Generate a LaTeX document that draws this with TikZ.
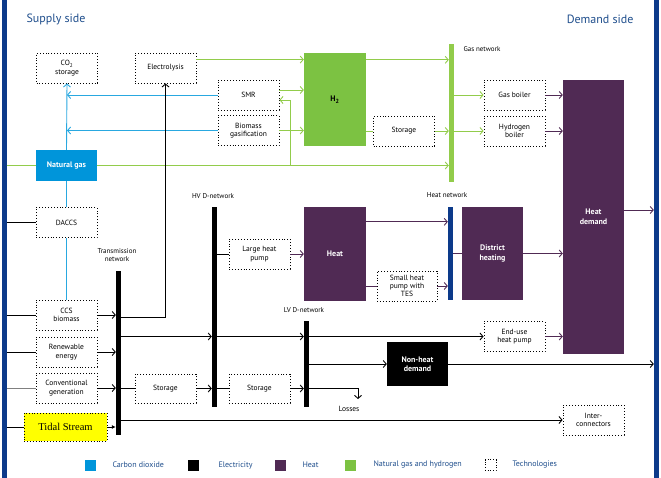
\documentclass[tikz,border=0pt]{standalone}
\usepackage{fontspec}
\setmainfont{PT Sans}
\newfontfamily\tidalfont{Liberation Serif}
\usetikzlibrary{arrows.meta}

\begin{document}
\begin{tikzpicture}[x=1pt,y=-1pt,
  every node/.style={font=\fontsize{7.5}{8.3}\selectfont},
  tech/.style={draw,dotted,line width=0.9pt,fill=white,minimum width=61pt,minimum height=30pt,inner sep=1pt,align=center},
  block/.style={minimum width=62pt,minimum height=93pt,inner sep=1pt,align=center,text=white,font=\fontsize{8}{9.5}\selectfont\bfseries},
  bus/.style={fill=#1,minimum width=5pt,inner sep=0pt},
  netlabel/.style={font=\fontsize{7}{8}\selectfont,align=center},
  legkey/.style={fill=#1,minimum size=11pt,inner sep=0pt},
  legtxt/.style={anchor=west,text=legtext,font=\fontsize{8}{9}\selectfont},
  co2line/.style={draw=co2col,line width=0.9pt},
  gasline/.style={draw=gascol,line width=0.9pt},
  heatline/.style={draw=heatcol,line width=0.9pt},
  elline/.style={draw=black,line width=0.9pt},
  flow/.style={-{Straight Barb[length=3pt,width=7pt,line width=0.9pt]}}
]
\definecolor{navy}{RGB}{12,58,138}
\definecolor{co2col}{RGB}{41,168,224}
\definecolor{co2box}{RGB}{0,149,218}
\definecolor{gascol}{RGB}{146,204,75}
\definecolor{gasbox}{RGB}{124,194,66}
\definecolor{heatcol}{RGB}{80,42,84}
\definecolor{legtext}{RGB}{31,78,140}
\definecolor{tidalfill}{RGB}{255,255,0}
\useasboundingbox (0,0) rectangle (661,478);

\node[bus=navy,minimum height=478pt] (supbar) at (4,239) {};
\node[bus=navy,minimum height=478pt] (dembar) at (656.5,239) {};
\node[text=legtext,font=\fontsize{12}{14}\selectfont,anchor=west] (suptitle) at (23,19) {Supply side};
\node[text=legtext,font=\fontsize{12}{14}\selectfont,anchor=east] (demtitle) at (637,19) {Demand side};

\node[tech] (co2) at (67,68) {CO\textsubscript{2}\\storage};
\node[tech] (elys) at (165.5,68) {Electrolysis};
\node[tech] (smr) at (248.5,95) {SMR};
\node[tech] (biog) at (248.5,130.5) {Biomass\\gasification};
\node[block,fill=gasbox,text=black] (htwo) at (335,99.5) {H\textsubscript{2}};
\node[tech] (gstor) at (404,131) {Storage};
\node[bus=gascol,minimum height=138pt] (gasnet) at (451.5,113) {};
\node[netlabel,anchor=west] (gaslab) at (460,49) {Gas network};
\node[tech] (gboil) at (514.5,95) {Gas boiler};
\node[tech] (hboil) at (514.5,131) {Hydrogen\\boiler};
\node[block,fill=heatcol,minimum width=61pt,minimum height=274pt] (hdem) at (593.5,217) {Heat\\demand};
\node[block,fill=co2box,minimum width=61pt,minimum height=31pt] (ngas) at (66.5,165.5) {Natural gas};
\node[tech] (daccs) at (66.5,222.5) {DACCS};
\node[tech] (ccs) at (66.5,315) {CCS\\biomass};
\node[tech] (renew) at (66.5,352) {Renewable\\energy};
\node[tech] (conv) at (66.5,388) {Conventional\\generation};
\node[tech,fill=tidalfill,minimum width=83pt,minimum height=28pt,font=\tidalfont\fontsize{10.5}{12}\selectfont] (tidal) at (65.5,427) {Tidal Stream};

\node[bus=black,minimum height=164pt] (trans) at (118.5,353) {};
\node[netlabel] (translab) at (117,255) {Transmission\\network};
\node[bus=black,minimum height=200pt] (hvbar) at (214.5,307) {};
\node[netlabel] (hvlab) at (213,196) {HV D-network};
\node[bus=black,minimum height=86pt] (lvbar) at (306.5,364) {};
\node[netlabel] (lvlab) at (304,310) {LV D-network};
\node[tech] (lhp) at (259.5,254) {Large heat\\pump};
\node[tech,minimum height=29pt] (stor1) at (165.5,388.5) {Storage};
\node[tech,minimum height=29pt] (stor2) at (259.5,388.5) {Storage};
\node[block,fill=heatcol] (heat) at (335,254) {Heat};
\node[tech,minimum width=60pt,font=\fontsize{7.5}{7.8}\selectfont] (shp) at (407,286) {Small heat\\pump with\\TES};
\node[bus=navy,minimum height=93pt] (heatnet) at (450.5,253.5) {};
\node[netlabel] (heatlab) at (447,195) {Heat network};
\node[block,fill=heatcol,minimum width=61pt] (dh) at (492.5,253.5) {District\\heating};
\node[tech] (euhp) at (514.5,336.5) {End-use\\heat pump};
\node[block,fill=black,minimum width=61pt,minimum height=44pt] (nhd) at (417.5,364) {Non-heat\\demand};
\node[tech] (inter) at (593.5,420) {Inter-\\connectors};
\node (losses) at (349,409) {Losses};
\coordinate (lossin) at (358,399);
\coordinate (ngbr) at (290,165.5);

\draw[co2line,flow] (ngas.north) -- (co2.south);
\draw[co2line] (daccs.north) -- (ngas.south);
\draw[co2line] (ccs.north) -- (daccs.south);
\draw[co2line,flow] (smr.west) -- (smr.west -| co2.south);
\draw[co2line,flow] (biog.west) -- (biog.west -| co2.south);

\draw[gasline] (supbar.east |- ngas) -- (ngas.west);
\draw[gasline,flow] (ngas.east) -- (ngas.east -| gasnet.west);
\draw[gasline,flow] (ngbr) |- ([yshift=-5pt]smr.east);
\draw[gasline,flow] ([yshift=-7pt]elys.north east) -- ([yshift=-7pt]elys.north east -| htwo.west);
\draw[gasline,flow] ([yshift=5pt]smr.east) -- ([yshift=5pt]smr.east -| htwo.west);
\draw[gasline,flow] (biog.east) -- (biog.east -| htwo.west);
\draw[gasline,flow] ([yshift=-7pt]htwo.north east) -- ([yshift=-7pt]htwo.north east -| gasnet.west);
\draw[gasline] (htwo.east |- gstor) -- (gstor.west);
\draw[gasline,flow] (gstor.east) -- (gstor.east -| gasnet.west);
\draw[gasline,flow] (gboil.west -| gasnet.east) -- (gboil.west);
\draw[gasline,flow] (hboil.west -| gasnet.east) -- (hboil.west);

\draw[heatline,flow] (gboil.east) -- (gboil.east -| hdem.west);
\draw[heatline,flow] (hboil.east) -- (hboil.east -| hdem.west);
\draw[heatline,flow] (dh.east) -- (dh.east -| hdem.west);
\draw[heatline,flow] (euhp.east) -- (euhp.east -| hdem.west);
\draw[heatline,flow] ([yshift=7pt]hdem.east) -- ([yshift=7pt]hdem.east -| dembar.west);
\draw[heatline,flow] (lhp.east) -- (lhp.east -| heat.west);
\draw[heatline,flow] ([yshift=-14.5pt]heat.north east) -- ([yshift=-14.5pt]heat.north east -| heatnet.west);
\draw[heatline] (heat.east |- shp) -- (shp.west);
\draw[heatline,flow] (shp.east) -- (shp.east -| heatnet.west);
\draw[heatline] (heatnet.east) -- (dh.west);

\draw[elline] (supbar.east |- daccs) -- (daccs.west);
\draw[elline] (supbar.east |- ccs) -- (ccs.west);
\draw[elline] (supbar.east |- renew) -- (renew.west);
\draw[elline,draw=gray] (supbar.east |- conv) -- (conv.west);
\draw[elline] (supbar.east |- tidal) -- (tidal.west);
\draw[elline,flow] (ccs.east) -- (ccs.east -| trans.west);
\draw[elline,flow] (renew.east) -- (renew.east -| trans.west);
\draw[elline,flow] (conv.east) -- (conv.east -| trans.west);
\draw[elline,-{Latex[length=4pt,width=4pt]}] (tidal.east) -- (tidal.east -| trans.west);
\draw[elline,flow] ([yshift=-2pt]trans.east |- ccs) -| (elys.south);
\draw[elline,flow] (trans.east |- euhp) -- (euhp -| hvbar.west);
\draw[elline,flow] (hvbar.east |- euhp) -- (euhp -| lvbar.west);
\draw[elline,flow] (lvbar.east |- euhp) -- (euhp.west);
\draw[elline] (hvbar.east |- lhp) -- (lhp.west);
\draw[elline] (trans.east |- stor1) -- (stor1.west);
\draw[elline,flow] (stor1.east) -- (stor1.east -| hvbar.west);
\draw[elline] (hvbar.east |- stor2) -- (stor2.west);
\draw[elline,flow] (stor2.east) -- (stor2.east -| lvbar.west);
\draw[elline,flow] (lvbar.east |- stor2) -| (lossin);
\draw[elline,flow] (lvbar.east |- nhd) -- (nhd.west);
\draw[elline,flow] (nhd.east) -- (nhd.east -| dembar.west);
\draw[elline,flow] (trans.east |- inter) -- (inter.west);

\node[legkey=co2box] (legco2) at (90,465) {};
\node[legtxt] (legco2t) at (109,465) {Carbon dioxide};
\node[legkey=black] (legel) at (193,465) {};
\node[legtxt] (legelt) at (215,465) {Electricity};
\node[legkey=heatcol] (legheat) at (280.5,465) {};
\node[legtxt] (legheatt) at (299,465) {Heat};
\node[legkey=gasbox] (leggas) at (350.5,465) {};
\node[legtxt] (leggast) at (370,465) {Natural gas and hydrogen};
\node[legkey=white,draw,dotted,line width=0.7pt] (legtech) at (490.5,465) {};
\node[legtxt] (legtecht) at (509,465) {Technologies};
\end{tikzpicture}
\end{document}
